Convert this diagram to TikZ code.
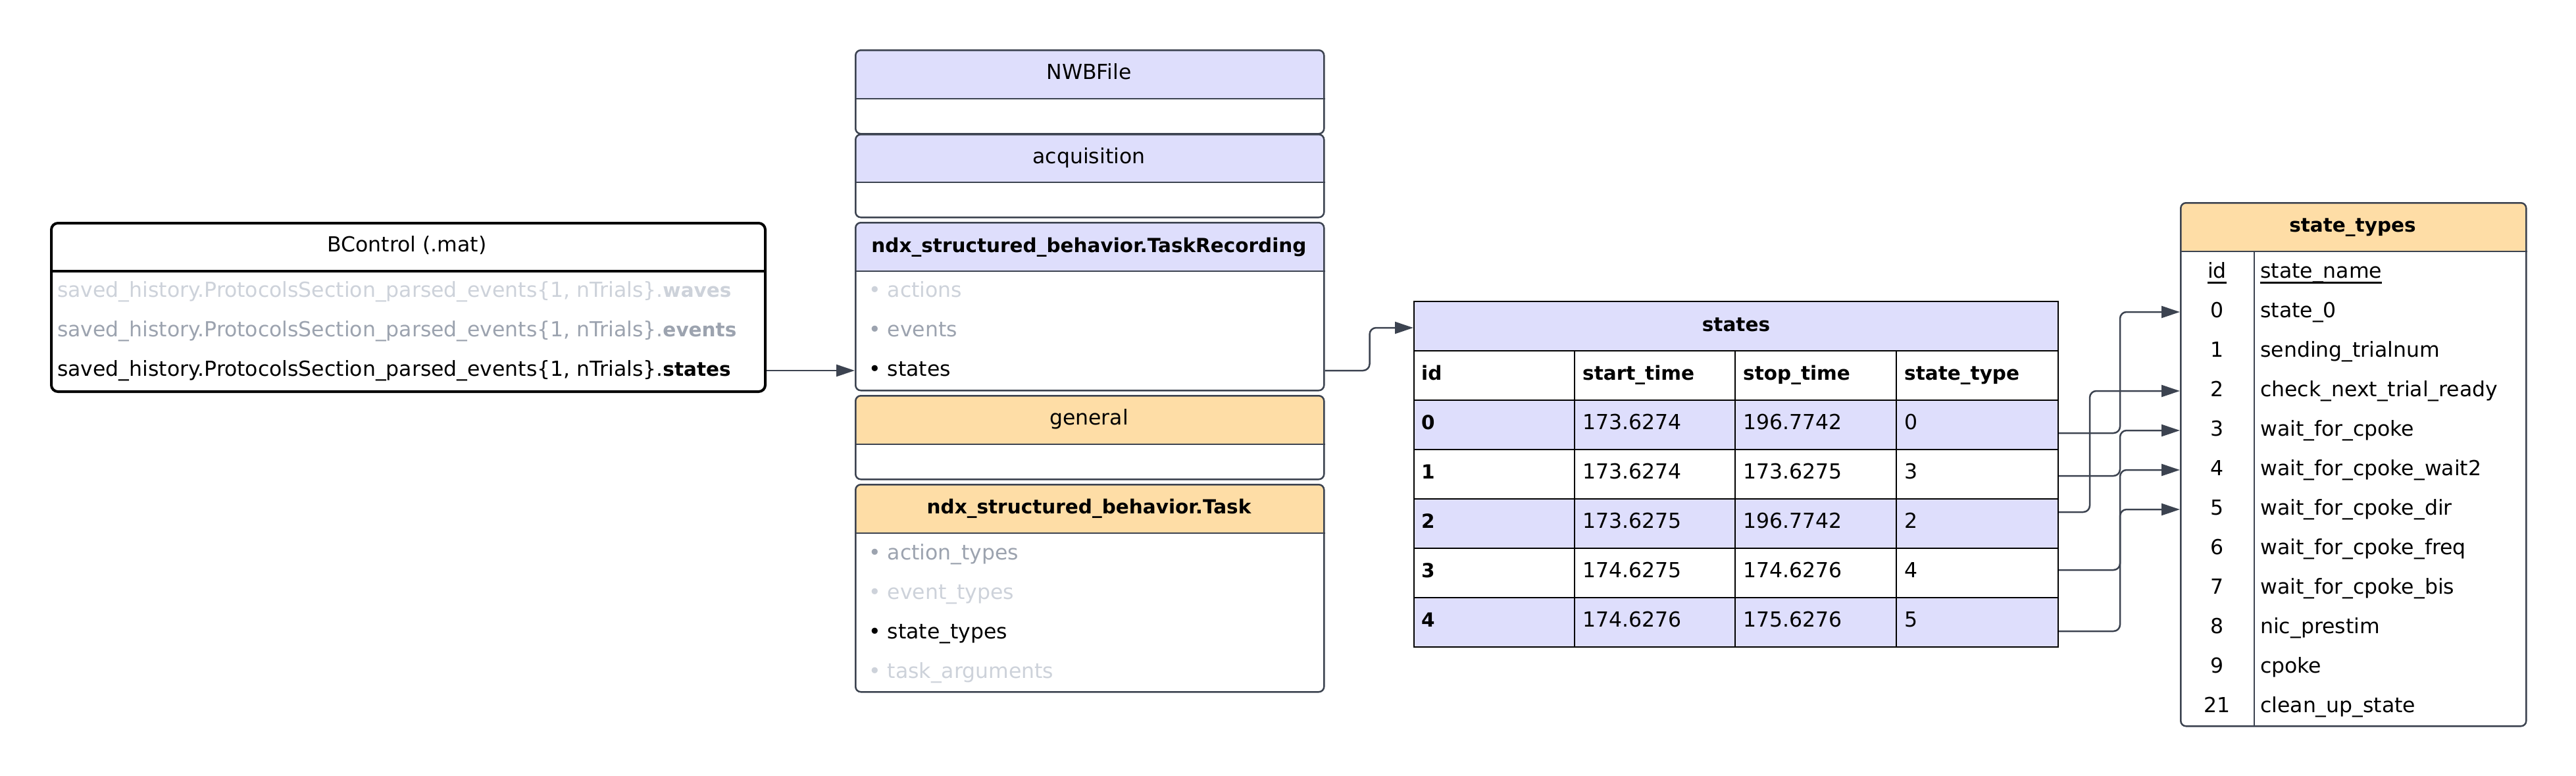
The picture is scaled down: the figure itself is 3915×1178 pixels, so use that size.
\documentclass[tikz,border=0pt]{standalone}
\usepackage{fontspec}
\setmainfont{DejaVu Sans}
\usetikzlibrary{arrows.meta,calc}
\definecolor{lav}{HTML}{DEDEFC}
\definecolor{org}{HTML}{FEDDA6}
\definecolor{edge}{HTML}{3C4350}
\definecolor{lgray}{HTML}{CDD2DA}
\definecolor{mgray}{HTML}{9CA3AF}
\newcommand\thickul[1]{\setbox0\hbox{#1}\rlap{\rule[-8.5pt]{\wd0}{3pt}}\box0}
\newcommand\boldpart[1]{{\fontsize{29.5}{36}\selectfont\bfseries #1}}
\tikzset{
  txt/.style={inner sep=0pt, text height=22pt, text depth=6pt, font=\fontsize{31.5}{38}\selectfont, text=black},
  btxt/.style={txt, font=\fontsize{29.5}{36}\selectfont\bfseries},
  cls/.style n args={4}{draw=edge, line width=2.5pt, rounded corners=8pt, inner sep=0pt,
    minimum width=#1, minimum height=#2, fill=white,
    path picture={\fill[#4, sharp corners] (path picture bounding box.north west) rectangle ([yshift=-#3]path picture bounding box.north east);}},
  divider/.style={draw=edge, line width=2.5pt},
  tcell/.style={draw=black, line width=2pt, inner sep=0pt, minimum width=979pt, minimum height=75pt, anchor=north west},
  tline/.style={draw=black, line width=2pt},
  conn/.style={draw=edge, line width=2.5pt, rounded corners=10pt, -{Triangle[length=28pt,width=18pt]}},
}
\begin{document}
\begin{tikzpicture}[x=1pt,y=-1pt]
\useasboundingbox[fill=white] (0,0) rectangle (3915,1178);

% ---------- BControl ----------
\node[cls={1085pt}{256pt}{75pt}{white}, draw=black, line width=4pt, rounded corners=10pt, anchor=north west] (bc) at (76,337) {};
\draw[draw=black, line width=4pt] ([yshift=-75pt]bc.north west) -- ([yshift=-75pt]bc.north east);
\node[txt] (bcT) at (618.5,374.5) {BControl (.mat)};
\node[txt, anchor=west, text=lgray] (bc1) at (87,443) {saved\_history.ProtocolsSection\_parsed\_events\{1, nTrials\}.\boldpart{waves}};
\node[txt, anchor=west, text=mgray] (bc2) at (87,503) {saved\_history.ProtocolsSection\_parsed\_events\{1, nTrials\}.\boldpart{events}};
\node[txt, anchor=west] (bc3) at (87,563) {saved\_history.ProtocolsSection\_parsed\_events\{1, nTrials\}.\boldpart{states}};

% ---------- middle column ----------
\node[cls={712pt}{127pt}{75pt}{lav}, anchor=north west] (nwb) at (1299,75) {};
\draw[divider] ([yshift=-75pt]nwb.north west) -- ([yshift=-75pt]nwb.north east);
\node[txt] (nwbT) at (1655,112.5) {NWBFile};

\node[cls={712pt}{126pt}{74pt}{lav}, anchor=north west] (acq) at (1299,203) {};
\draw[divider] ([yshift=-74pt]acq.north west) -- ([yshift=-74pt]acq.north east);
\node[txt] (acqT) at (1655,240) {acquisition};

\node[cls={712pt}{255pt}{75pt}{lav}, anchor=north west] (tr) at (1299,337) {};
\draw[divider] ([yshift=-75pt]tr.north west) -- ([yshift=-75pt]tr.north east);
\node[btxt] (trT) at (1655,375) {ndx\_structured\_behavior.TaskRecording};
\node[txt, anchor=west, text=lgray] (tr1) at (1320,443) {• actions};
\node[txt, anchor=west, text=mgray] (tr2) at (1320,503) {• events};
\node[txt, anchor=west] (tr3) at (1320,563) {• states};

\node[cls={712pt}{127pt}{75pt}{org}, anchor=north west] (gen) at (1299,600) {};
\draw[divider] ([yshift=-75pt]gen.north west) -- ([yshift=-75pt]gen.north east);
\node[txt] (genT) at (1655,637.5) {general};

\node[cls={712pt}{315pt}{75pt}{org}, anchor=north west] (task) at (1299,735) {};
\draw[divider] ([yshift=-75pt]task.north west) -- ([yshift=-75pt]task.north east);
\node[btxt] (taskT) at (1655,772.5) {ndx\_structured\_behavior.Task};
\node[txt, anchor=west, text=mgray] (task1) at (1320,842) {• action\_types};
\node[txt, anchor=west, text=lgray] (task2) at (1320,902) {• event\_types};
\node[txt, anchor=west] (task3) at (1320,962) {• state\_types};
\node[txt, anchor=west, text=lgray] (task4) at (1320,1022) {• task\_arguments};

% ---------- states table ----------
\node[tcell, fill=lav] (sth) at (2148,457) {};
\node[btxt] (sthT) at (sth.center) {states};
\node[tcell, fill=white] (colh) at (2148,532) {};
\node[tcell, fill=lav] (r0) at (2148,607) {};
\node[tcell, fill=white] (r1) at (2148,682) {};
\node[tcell, fill=lav] (r2) at (2148,757) {};
\node[tcell, fill=white] (r3) at (2148,832) {};
\node[tcell, fill=lav] (r4) at (2148,907) {};
\draw[tline] (2393,532) -- (2393,982);
\draw[tline] (2637,532) -- (2637,982);
\draw[tline] (2882,532) -- (2882,982);
\node[btxt, anchor=west] (hId) at (2160,569.5) {id};
\node[btxt, anchor=west] (hSt) at (2405,569.5) {start\_time};
\node[btxt, anchor=west] (hSp) at (2649,569.5) {stop\_time};
\node[btxt, anchor=west] (hTy) at (2894,569.5) {state\_type};
\foreach \r/\a/\b/\c/\d in {0/0/173.6274/196.7742/0, 1/1/173.6274/173.6275/3, 2/2/173.6275/196.7742/2, 3/3/174.6275/174.6276/4, 4/4/174.6276/175.6276/5}{
  \node[btxt, anchor=west] (c\r a) at (2160,644.5+75*\r) {\a};
  \node[txt, anchor=west] (c\r b) at (2405,644.5+75*\r) {\b};
  \node[txt, anchor=west] (c\r c) at (2649,644.5+75*\r) {\c};
  \node[txt, anchor=west] (c\r d) at (2894,644.5+75*\r) {\d};
}

% ---------- state_types ----------
\node[cls={525pt}{795pt}{75pt}{org}, anchor=north west] (stt) at (3313,307) {};
\draw[divider] ([yshift=-75pt]stt.north west) -- ([yshift=-75pt]stt.north east);
\draw[divider] (3426,382) -- (3426,1102);
\node[btxt] (sttT) at (3575.5,344.5) {state\_types};
\node[txt] (sidH) at (3369.5,414) {\thickul{id}};
\node[txt, anchor=west] (snH) at (3435,414) {\thickul{state\_name}};
\foreach \k/\i/\n in {1/0/state\_0, 2/1/sending\_trialnum, 3/2/check\_next\_trial\_ready, 4/3/wait\_for\_cpoke, 5/4/wait\_for\_cpoke\_wait2, 6/5/wait\_for\_cpoke\_dir, 7/6/wait\_for\_cpoke\_freq, 8/7/wait\_for\_cpoke\_bis, 9/8/nic\_prestim, 10/9/cpoke, 11/21/clean\_up\_state}{
  \node[txt] (sid\i) at (3369.5,414+60*\k) {\i};
  \node[txt, anchor=west] (sn\i) at (3435,414+60*\k) {\n};
}

% ---------- connectors ----------
\draw[conn] (bc3 -| bc.east) -- (bc3 -| tr.west);
\draw[conn] (tr3 -| tr.east) -- ++(68,0) |- ([yshift=-2.5pt]sth.west);
\draw[conn] ([yshift=-12.5pt]r0.east) -- ++(93,0) |- (sid0 -| stt.west);
\draw[conn] ([yshift=-2.5pt]r1.east) -- ++(93,0) |- (sid3 -| stt.west);
\draw[conn] ([yshift=17.5pt]r2.east) -- ++(47,0) |- (sid2 -| stt.west);
\draw[conn] ([yshift=4.5pt]r3.east) -- ++(93,0) |- (sid4 -| stt.west);
\draw[conn] ([yshift=-13.5pt]r4.east) -- ++(93,0) |- (sid5 -| stt.west);
\end{tikzpicture}
\end{document}
